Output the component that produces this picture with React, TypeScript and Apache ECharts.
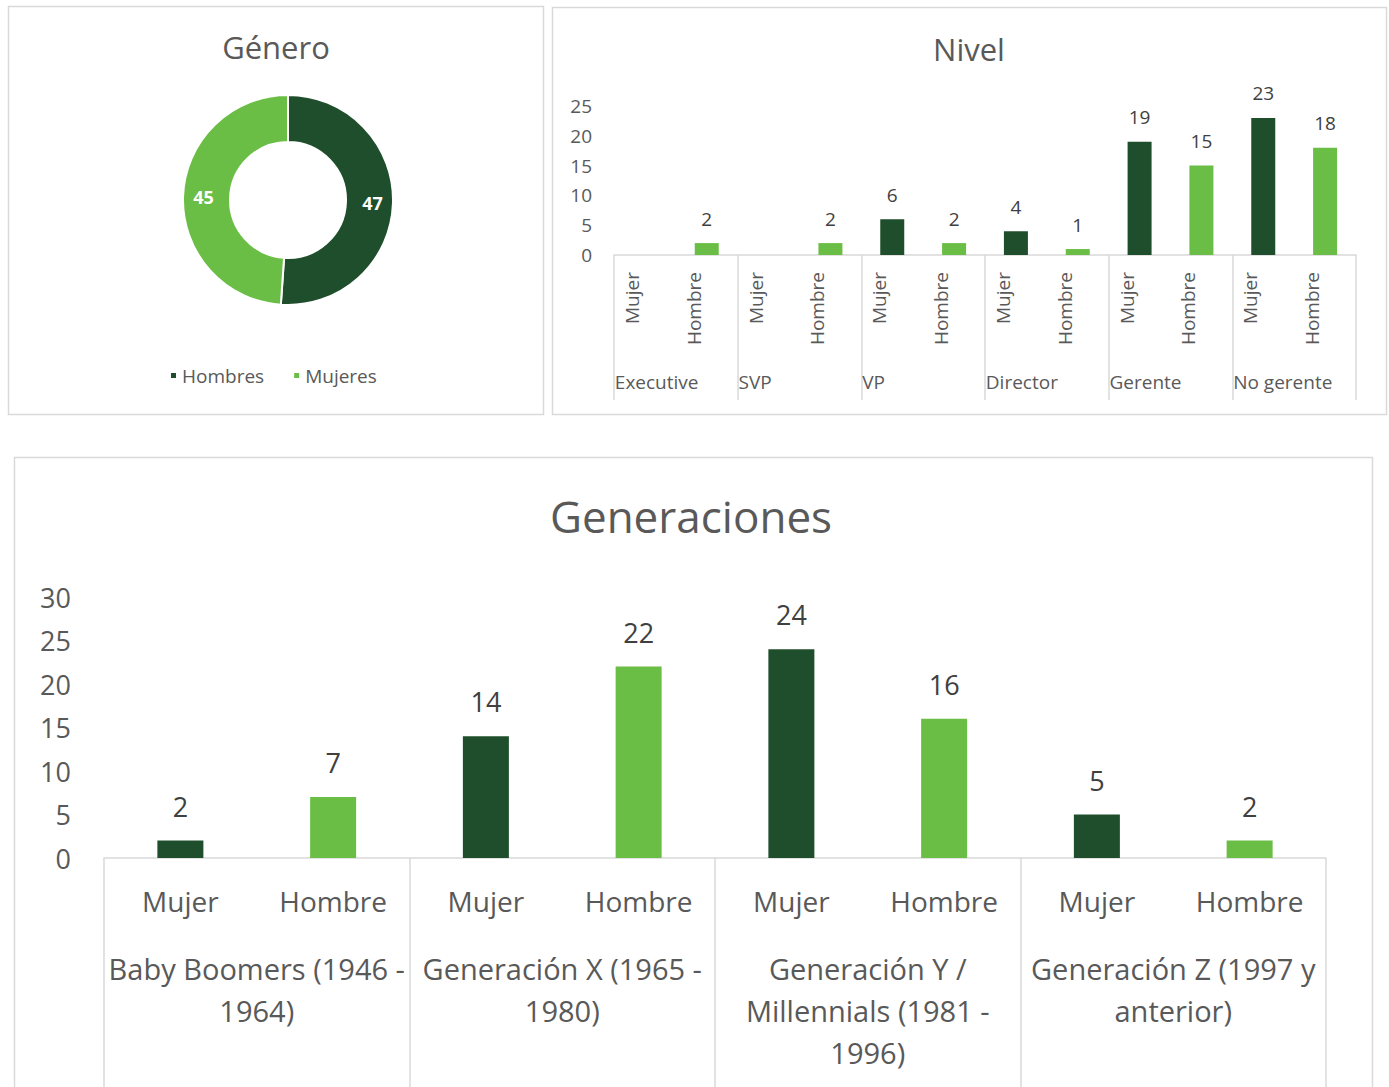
import React, { useEffect, useRef } from "react";
import * as echarts from "echarts";

// ---------- data ----------
const generoNames = ["Hombres", "Mujeres"];
const generoValues = [47, 45];

const sexLabels = ["Mujer", "Hombre"];

const nivelGroups = ["Executive", "SVP", "VP", "Director", "Gerente", "No gerente"];
const nivelMujer: (number | null)[] = [null, null, 6, 4, 19, 23];
const nivelHombre: (number | null)[] = [2, 2, 2, 1, 15, 18];
const nivelTicks = [0, 5, 10, 15, 20, 25];

const genGroups = [
  "Baby Boomers (1946 -\n1964)",
  "Generación X (1965 -\n1980)",
  "Generación Y /\nMillennials (1981 -\n1996)",
  "Generación Z (1997 y\nanterior)",
];
const genMujer = [2, 14, 24, 5];
const genHombre = [7, 22, 16, 2];
const genTicks = [0, 5, 10, 15, 20, 25, 30];

// ---------- style ----------
const DARK = "#1F4E2C";
const LIGHT = "#6BBE45";
const TEXT = "#595959";
const VALUE = "#404040";
const LINE = "#D9D9D9";
const FONT = "Open Sans";

function subCats(groups: string[]) {
  const out: string[] = [];
  groups.forEach((g, i) => sexLabels.forEach((s) => out.push(i + "|" + s)));
  return out;
}

function barData(mujer: (number | null)[], hombre: (number | null)[]) {
  const out: any[] = [];
  mujer.forEach((m, i) => {
    out.push({ value: m === null ? "-" : m, itemStyle: { color: DARK } });
    out.push({ value: hombre[i] === null ? "-" : hombre[i], itemStyle: { color: LIGHT } });
  });
  return out;
}

export default function App() {
  const ref = useRef<HTMLDivElement>(null);

  useEffect(() => {
    if (!ref.current) return;
    const chart = echarts.init(ref.current, undefined, { renderer: "svg" });

    const option: any = {
      animation: false,
      textStyle: { fontFamily: FONT },
      graphic: [
        { type: "rect", shape: { x: 8.5, y: 6.5, width: 535, height: 408 }, style: { fill: "none", stroke: LINE, lineWidth: 1.5 } },
        { type: "rect", shape: { x: 552.5, y: 7.5, width: 834, height: 407 }, style: { fill: "none", stroke: LINE, lineWidth: 1.5 } },
        { type: "rect", shape: { x: 14.5, y: 457.5, width: 1358, height: 700 }, style: { fill: "none", stroke: LINE, lineWidth: 1.5 } },
      ],
      title: [
        { text: "Género", left: 276, top: 31, textAlign: "center", textVerticalAlign: "top", padding: 0, textStyle: { fontSize: 31, fontWeight: "normal", color: TEXT, fontFamily: FONT } },
        { text: "Nivel", left: 969, top: 33, textAlign: "center", textVerticalAlign: "top", padding: 0, textStyle: { fontSize: 31, fontWeight: "normal", color: TEXT, fontFamily: FONT } },
        { text: "Generaciones", left: 691, top: 494, textAlign: "center", textVerticalAlign: "top", padding: 0, textStyle: { fontSize: 44, fontWeight: "normal", color: TEXT, fontFamily: FONT } },
      ],
      legend: {
        data: generoNames,
        left: 169,
        top: 366,
        padding: 0,
        icon: "rect",
        itemWidth: 7,
        itemHeight: 7,
        itemGap: 28,
        textStyle: { fontSize: 19, color: TEXT, fontFamily: FONT },
      },
      grid: [
        { left: 614, top: 106, width: 742, height: 149, containLabel: false, outerBoundsMode: "none" },
        { left: 104, top: 597, width: 1222, height: 261, containLabel: false, outerBoundsMode: "none" },
      ],
      xAxis: [
        {
          gridIndex: 0,
          type: "category",
          position: "bottom",
          data: subCats(nivelGroups),
          axisLine: { show: true, lineStyle: { color: LINE, width: 1.5 } },
          axisTick: { show: false },
          axisLabel: {
            interval: 0,
            rotate: 90,
            margin: 17,
            fontSize: 19,
            lineHeight: 26,
            color: TEXT,
            formatter: (v: string) => v.split("|")[1] + "\n ",
          },
        },
        {
          gridIndex: 0,
          type: "category",
          position: "bottom",
          data: nivelGroups,
          axisLine: { show: false },
          axisTick: { show: true, interval: 0, length: 145, lineStyle: { color: LINE, width: 1.5 } },
          axisLabel: {
            interval: 0,
            margin: 117,
            formatter: "{a|{value}}",
            rich: { a: { width: 122, align: "left", fontSize: 19, color: TEXT, fontFamily: FONT } },
          },
        },
        {
          gridIndex: 1,
          type: "category",
          position: "bottom",
          data: subCats(genGroups),
          axisLine: { show: true, lineStyle: { color: LINE, width: 1.5 } },
          axisTick: { show: false },
          axisLabel: {
            interval: 0,
            margin: 29,
            fontSize: 28,
            color: TEXT,
            formatter: (v: string) => v.split("|")[1],
          },
        },
        {
          gridIndex: 1,
          type: "category",
          position: "bottom",
          data: genGroups,
          axisLine: { show: false },
          axisTick: { show: true, interval: 0, length: 240, lineStyle: { color: LINE, width: 1.5 } },
          axisLabel: {
            interval: 0,
            margin: 89,
            fontSize: 29,
            lineHeight: 42,
            color: TEXT,
            align: "center",
          },
        },
      ],
      yAxis: [
        {
          gridIndex: 0,
          type: "value",
          min: nivelTicks[0],
          max: nivelTicks[nivelTicks.length - 1],
          interval: nivelTicks[1] - nivelTicks[0],
          splitLine: { show: false },
          axisLine: { show: false },
          axisTick: { show: false },
          axisLabel: { margin: 22, fontSize: 19, color: TEXT },
        },
        {
          gridIndex: 1,
          type: "value",
          min: genTicks[0],
          max: genTicks[genTicks.length - 1],
          interval: genTicks[1] - genTicks[0],
          splitLine: { show: false },
          axisLine: { show: false },
          axisTick: { show: false },
          axisLabel: { margin: 33, fontSize: 27, color: TEXT },
        },
      ],
      series: [
        {
          type: "pie",
          name: "Género",
          center: [288, 200],
          radius: [58, 105],
          startAngle: 90,
          clockwise: true,
          avoidLabelOverlap: false,
          itemStyle: { borderColor: "#fff", borderWidth: 2 },
          label: { show: true, position: "inside", formatter: "{c}", color: "#fff", fontWeight: "bold", fontSize: 18, fontFamily: FONT },
          labelLine: { show: false },
          data: generoNames.map((n, i) => ({ name: n, value: generoValues[i], itemStyle: { color: i === 0 ? DARK : LIGHT } })),
        },
        {
          type: "bar",
          name: "Nivel",
          xAxisIndex: 0,
          yAxisIndex: 0,
          barWidth: 24,
          label: { show: true, position: "top", distance: 15, fontSize: 19, color: VALUE },
          data: barData(nivelMujer, nivelHombre),
        },
        {
          type: "bar",
          name: "Generaciones",
          xAxisIndex: 2,
          yAxisIndex: 1,
          barWidth: 46,
          label: { show: true, position: "top", distance: 21, fontSize: 27, color: VALUE },
          data: barData(genMujer, genHombre),
        },
      ],
    };

    chart.setOption(option);
    return () => chart.dispose();
  }, []);

  return (
    <div
      ref={ref}
      style={{ position: "absolute", left: 0, top: 0, width: 1389, height: 1087, background: "#fff" }}
    />
  );
}
